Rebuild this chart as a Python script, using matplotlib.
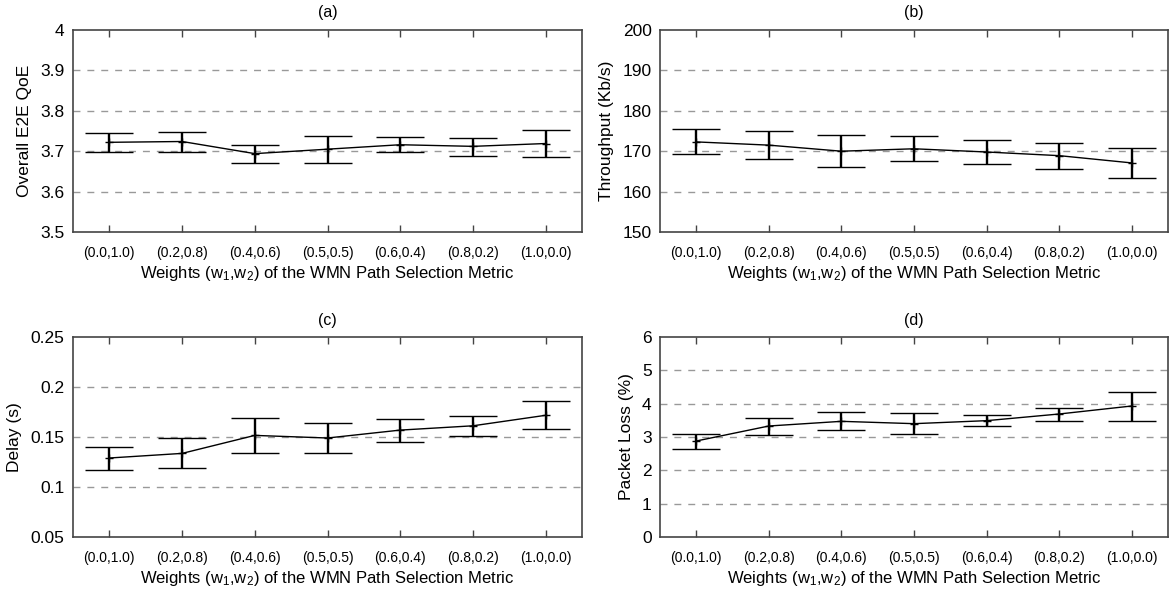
import matplotlib
matplotlib.use("Agg")
import matplotlib.pyplot as plt
import numpy as np

plt.rcParams['font.family'] = ['Liberation Sans', 'DejaVu Sans']
plt.rcParams['mathtext.default'] = 'regular'

weights = ["(0.0,1.0)", "(0.2,0.8)", "(0.4,0.6)", "(0.5,0.5)",
           "(0.6,0.4)", "(0.8,0.2)", "(1.0,0.0)"]

qoe_mean = [3.722, 3.724, 3.694, 3.705, 3.716, 3.712, 3.719]
qoe_low = [3.698, 3.699, 3.671, 3.672, 3.697, 3.689, 3.686]
qoe_high = [3.744, 3.747, 3.715, 3.737, 3.735, 3.733, 3.752]

thr_mean = [172.3, 171.5, 170.0, 170.6, 169.8, 168.9, 167.1]
thr_low = [169.2, 168.1, 166.0, 167.5, 166.9, 165.5, 163.3]
thr_high = [175.5, 174.9, 174.0, 173.7, 172.7, 172.1, 170.8]

delay_mean = [0.129, 0.1336, 0.1516, 0.149, 0.1569, 0.1612, 0.1717]
delay_low = [0.1174, 0.1188, 0.1336, 0.1336, 0.145, 0.151, 0.1582]
delay_high = [0.1405, 0.1487, 0.1694, 0.1638, 0.1684, 0.171, 0.1862]

loss_mean = [2.88, 3.33, 3.47, 3.40, 3.49, 3.69, 3.93]
loss_low = [2.65, 3.07, 3.21, 3.10, 3.33, 3.49, 3.49]
loss_high = [3.09, 3.57, 3.74, 3.72, 3.66, 3.87, 4.35]

panels = [
    ("(a)", "Overall E2E QoE", qoe_mean, qoe_low, qoe_high,
     (3.5, 4.0), [3.5, 3.6, 3.7, 3.8, 3.9, 4.0], ["3.5", "3.6", "3.7", "3.8", "3.9", "4"]),
    ("(b)", "Throughput (Kb/s)", thr_mean, thr_low, thr_high,
     (150, 200), [150, 160, 170, 180, 190, 200], ["150", "160", "170", "180", "190", "200"]),
    ("(c)", "Delay (s)", delay_mean, delay_low, delay_high,
     (0.05, 0.25), [0.05, 0.1, 0.15, 0.2, 0.25], ["0.05", "0.1", "0.15", "0.2", "0.25"]),
    ("(d)", "Packet Loss (%)", loss_mean, loss_low, loss_high,
     (0, 6), [0, 1, 2, 3, 4, 5, 6], ["0", "1", "2", "3", "4", "5", "6"]),
]

W, H = 1175, 590
fig = plt.figure(figsize=(W / 100, H / 100), dpi=100)

rects = [
    (73, 30, 582, 232), (660, 30, 1168, 232),
    (73, 337, 582, 537), (660, 337, 1168, 537),
]

frame_color = "#444444"
xlabel = r"Weights (w$_1$,w$_2$) of the WMN Path Selection Metric"

for (title, ylabel, mean, low, high, ylim, yt, ytl), (x0, y0, x1, y1) in zip(panels, rects):
    ax = fig.add_axes([x0 / W, 1 - y1 / H, (x1 - x0) / W, (y1 - y0) / H])
    x = np.arange(len(weights))
    mean = np.array(mean)
    yerr = np.vstack([mean - np.array(low), np.array(high) - mean])
    ax.plot(x, mean, color="black", lw=1.0, zorder=3)
    ax.errorbar(x, mean, yerr=yerr, fmt="+", color="black", ms=6, mew=1.0,
                ecolor="black", elinewidth=1.7, capsize=17, capthick=1.8, zorder=4)

    ax.set_xlim(-0.5, len(weights) - 0.5)
    ax.set_ylim(*ylim)
    ax.set_yticks(yt)
    ax.set_yticklabels(ytl, fontsize=12.5)
    ax.set_xticks(x)
    ax.set_xticklabels(weights, fontsize=10)
    ax.tick_params(axis="x", direction="in", length=5, width=1.0, color=frame_color,
                   top=True, pad=10)
    ax.tick_params(axis="y", length=0, pad=6)

    for gy in yt[1:-1]:
        ax.axhline(gy, color="#999999", lw=1.0, dashes=(5, 5), zorder=1)

    for s in ax.spines.values():
        s.set_color(frame_color)
        s.set_linewidth(1.2)

    ax.set_title(title, fontsize=11.5, pad=9)
    ax.set_ylabel(ylabel, fontsize=12.5, labelpad=6)
    ax.set_xlabel(xlabel, fontsize=12, labelpad=3)

fig.savefig("out.png", dpi=100)
